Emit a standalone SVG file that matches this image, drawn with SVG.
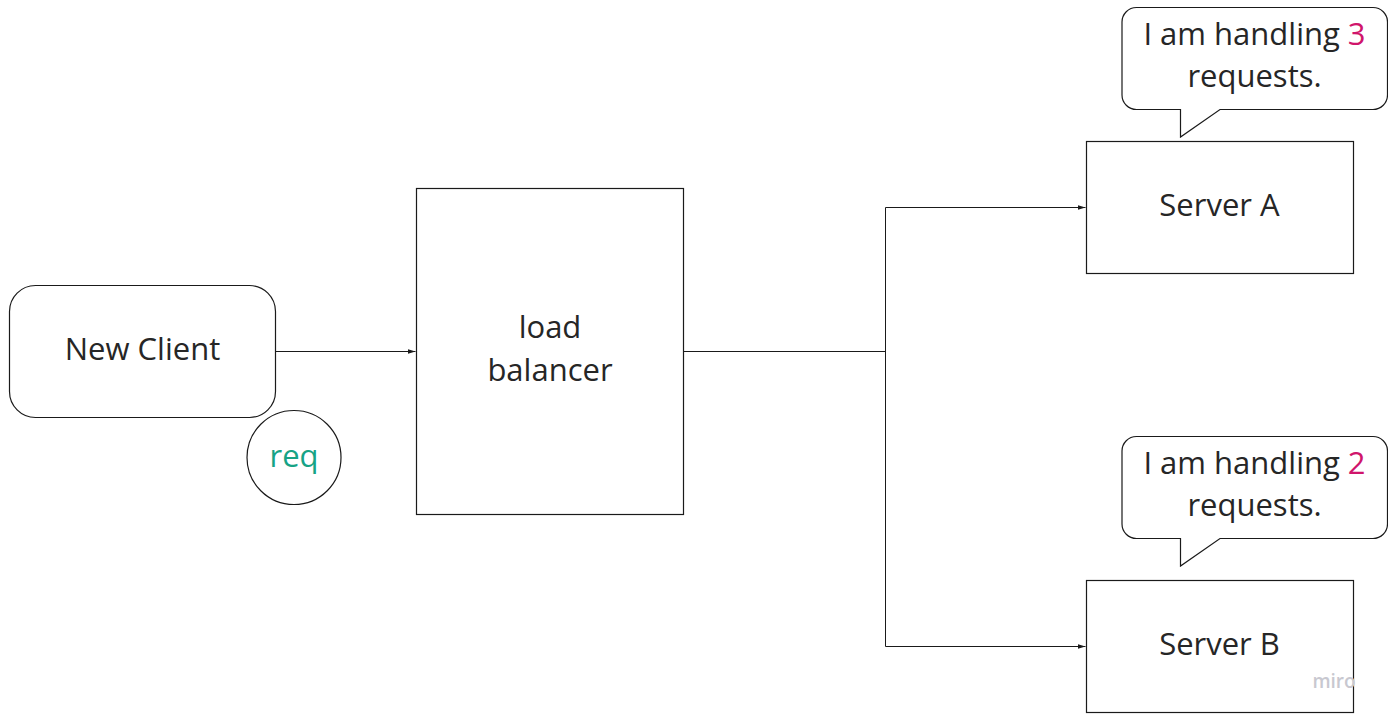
<svg xmlns="http://www.w3.org/2000/svg" width="1388" height="720" viewBox="0 0 1388 720">
<style>
.box{fill:#fff;stroke:#1a1a1a;stroke-width:1.2}
.t{font-family:"Open Sans","Liberation Sans",sans-serif;font-size:31px;font-weight:400;fill:#262626;text-anchor:middle}
.c{fill:none;stroke:#1a1a1a;stroke-width:1}
.hl{fill:#d0156b}
</style>
<defs>
<marker id="ah" markerWidth="8" markerHeight="6" refX="8" refY="3" orient="auto" markerUnits="userSpaceOnUse">
<path d="M0,0.5 L8,3 L0,5.5 Z" fill="#1a1a1a"/>
</marker>
</defs>
<rect width="1388" height="720" fill="#fff"/>
<g id="connectors">
<path class="c" d="M276,351.5 H415.5" marker-end="url(#ah)"/>
<path class="c" d="M683.5,351.5 H885.5"/>
<path class="c" d="M885.5,207.5 V646.5"/>
<path class="c" d="M885.5,207.5 H1085.5" marker-end="url(#ah)"/>
<path class="c" d="M885.5,646.5 H1085.5" marker-end="url(#ah)"/>
</g>
<g id="new-client">
<rect class="box" x="9.5" y="285.5" width="266" height="132" rx="26"/>
<text class="t" x="142.5" y="360">New Client</text>
</g>
<g id="req">
<circle class="box" cx="294" cy="457.5" r="47"/>
<text class="t" x="294" y="467" style="fill:#16a386">req</text>
</g>
<g id="load-balancer">
<rect class="box" x="416.5" y="188.5" width="267" height="326"/>
<text class="t" x="550" y="338">load</text>
<text class="t" x="550" y="381">balancer</text>
</g>
<g id="server-a">
<rect class="box" x="1086.5" y="141.5" width="267" height="132"/>
<text class="t" x="1219.5" y="216">Server A</text>
</g>
<g id="server-b">
<rect class="box" x="1086.5" y="580.5" width="267" height="132"/>
<text class="t" x="1219.5" y="655">Server B</text>
</g>
<g id="bubble-a">
<path class="box" d="M1136.5,7.5 H1373 A14.5,14.5 0 0 1 1387.5,22 V95 A14.5,14.5 0 0 1 1373,109.5 H1220 L1180.5,137 V109.5 H1136.5 A14.5,14.5 0 0 1 1122,95 V22 A14.5,14.5 0 0 1 1136.5,7.5 Z"/>
<text class="t" x="1254.5" y="45">I am handling <tspan class="hl">3</tspan></text>
<text class="t" x="1254.5" y="87">requests.</text>
</g>
<g id="bubble-b">
<path class="box" d="M1136.5,436.5 H1373 A14.5,14.5 0 0 1 1387.5,451 V524 A14.5,14.5 0 0 1 1373,538.5 H1220 L1180.5,566 V538.5 H1136.5 A14.5,14.5 0 0 1 1122,524 V451 A14.5,14.5 0 0 1 1136.5,436.5 Z"/>
<text class="t" x="1254.5" y="474">I am handling <tspan class="hl">2</tspan></text>
<text class="t" x="1254.5" y="516">requests.</text>
</g>
<text x="1334" y="688" style="font-family:'Open Sans','Liberation Sans',sans-serif;font-size:19px;fill:#c8c8d0;text-anchor:middle;font-weight:600">miro</text>
</svg>
